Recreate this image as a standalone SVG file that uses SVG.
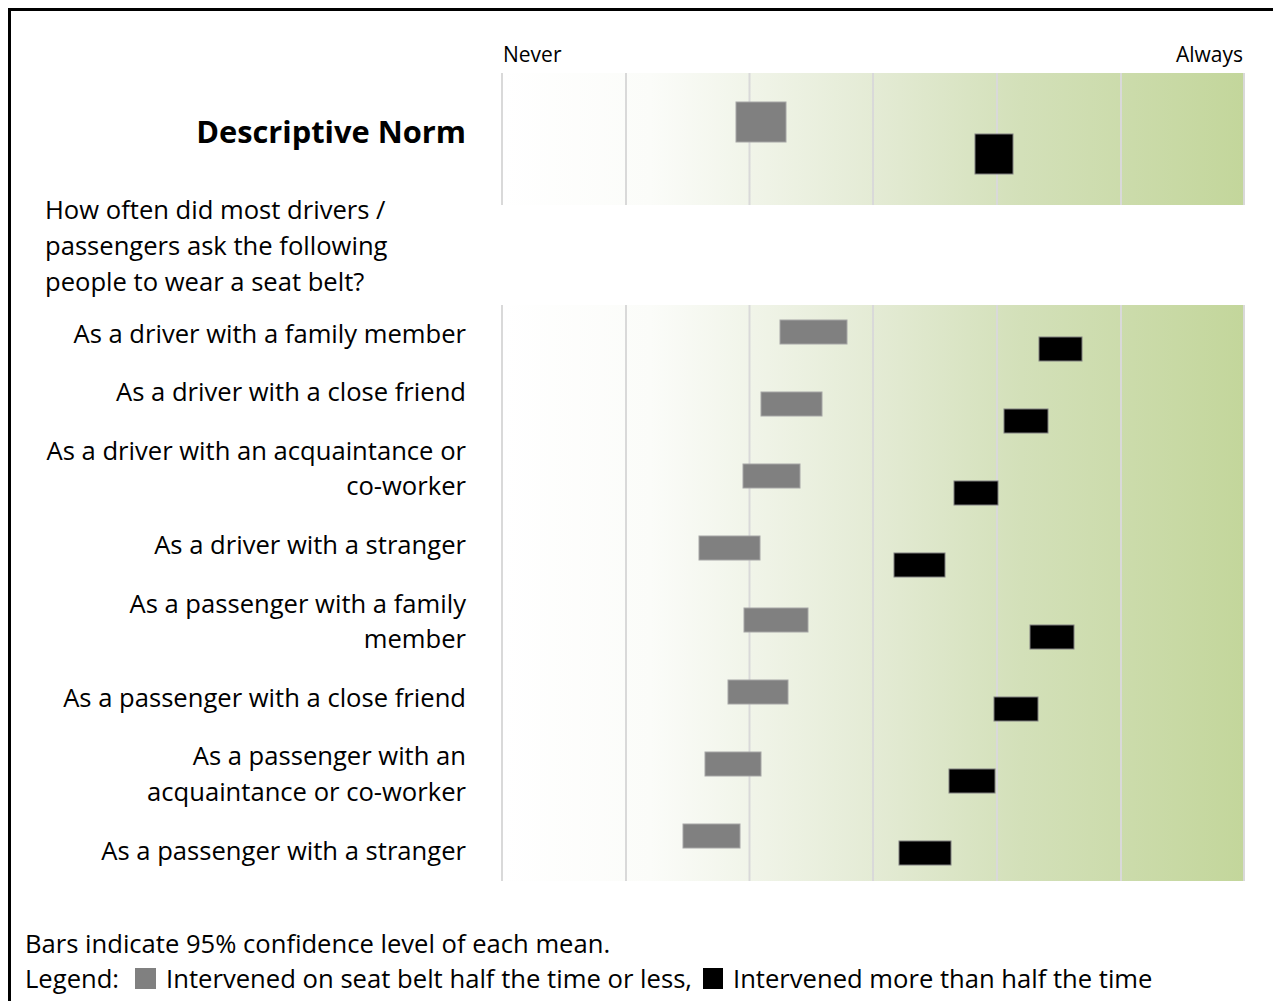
<svg xmlns="http://www.w3.org/2000/svg" width="1273" height="1001" viewBox="0 0 1273 1001">
<style>
text{font-family:"Open Sans","Liberation Sans",sans-serif;fill:#000}
.lbl{font-size:25.6px;text-anchor:end}
.ax{font-size:21px}
.t{font-size:25.6px}
.g{fill:#808080;stroke:#a6a6a6;stroke-width:1}
.b{fill:#000;stroke:#7f7f7f;stroke-width:1}
.grid{stroke:#d9d9d9;stroke-width:2}
</style>
<defs>
<linearGradient id="bg" x1="502" y1="0" x2="1244" y2="0" gradientUnits="userSpaceOnUse">
<stop offset="0" stop-color="#ffffff"/>
<stop offset="0.2" stop-color="#fbfcf9"/>
<stop offset="0.5" stop-color="#e4ebd5"/>
<stop offset="0.7" stop-color="#d3e0b9"/>
<stop offset="1" stop-color="#c3d69b"/>
</linearGradient>
</defs>
<rect x="0" y="0" width="1273" height="1001" fill="#fff"/>
<rect x="9.5" y="9.5" width="1275" height="1000" fill="none" stroke="#000" stroke-width="3"/>
<g id="panels">
<rect x="502" y="73" width="742" height="132" fill="url(#bg)"/>
<rect x="502" y="305" width="742" height="576" fill="url(#bg)"/>
<g class="grid">
<line x1="502" y1="73" x2="502" y2="205"/><line x1="626" y1="73" x2="626" y2="205"/><line x1="749.5" y1="73" x2="749.5" y2="205"/><line x1="873" y1="73" x2="873" y2="205"/><line x1="997" y1="73" x2="997" y2="205"/><line x1="1121" y1="73" x2="1121" y2="205"/><line x1="1244" y1="73" x2="1244" y2="205"/>
<line x1="502" y1="305" x2="502" y2="881"/><line x1="626" y1="305" x2="626" y2="881"/><line x1="749.5" y1="305" x2="749.5" y2="881"/><line x1="873" y1="305" x2="873" y2="881"/><line x1="997" y1="305" x2="997" y2="881"/><line x1="1121" y1="305" x2="1121" y2="881"/><line x1="1244" y1="305" x2="1244" y2="881"/>
</g>
</g>
<text class="ax" x="503" y="62">Never</text>
<text class="ax" x="1243" y="62" text-anchor="end">Always</text>
<g id="title">
<text x="466" y="143" font-size="30.8" font-weight="bold" text-anchor="end">Descriptive Norm</text>
<text class="t" x="45" y="219">How often did most drivers /</text>
<text class="t" x="45" y="255">passengers ask the following</text>
<text class="t" x="45" y="291">people to wear a seat belt?</text>
</g>
<g id="bars-top">
<rect class="g" x="736" y="102" width="50" height="40"/>
<rect class="b" x="975" y="134" width="38" height="40"/>
</g>
<g id="row1"><text class="lbl" x="466" y="343">As a driver with a family member</text>
<rect class="g" x="780" y="320" width="67" height="24"/><rect class="b" x="1039" y="337" width="43" height="24"/></g>
<g id="row2"><text class="lbl" x="466" y="401">As a driver with a close friend</text>
<rect class="g" x="761" y="392" width="61" height="24"/><rect class="b" x="1004" y="409" width="44" height="24"/></g>
<g id="row3"><text class="lbl" x="466" y="460">As a driver with an acquaintance or</text><text class="lbl" x="466" y="495">co-worker</text>
<rect class="g" x="743" y="464" width="57" height="24"/><rect class="b" x="954" y="481" width="44" height="24"/></g>
<g id="row4"><text class="lbl" x="466" y="554">As a driver with a stranger</text>
<rect class="g" x="699" y="536" width="61" height="24"/><rect class="b" x="894" y="553" width="51" height="24"/></g>
<g id="row5"><text class="lbl" x="466" y="613">As a passenger with a family</text><text class="lbl" x="466" y="648">member</text>
<rect class="g" x="744" y="608" width="64" height="24"/><rect class="b" x="1030" y="625" width="44" height="24"/></g>
<g id="row6"><text class="lbl" x="466" y="707">As a passenger with a close friend</text>
<rect class="g" x="728" y="680" width="60" height="24"/><rect class="b" x="994" y="697" width="44" height="24"/></g>
<g id="row7"><text class="lbl" x="466" y="765">As a passenger with an</text><text class="lbl" x="466" y="801">acquaintance or co-worker</text>
<rect class="g" x="705" y="752" width="56" height="24"/><rect class="b" x="949" y="769" width="46" height="24"/></g>
<g id="row8"><text class="lbl" x="466" y="860">As a passenger with a stranger</text>
<rect class="g" x="683" y="824" width="57" height="24"/><rect class="b" x="899" y="841" width="52" height="24"/></g>
<g id="footer">
<text class="t" x="25" y="953">Bars indicate 95% confidence level of each mean.</text>
<text class="t" x="25" y="988">Legend:</text>
<rect x="135" y="968" width="21" height="21" fill="#808080"/>
<text class="t" x="166" y="988" textLength="526" lengthAdjust="spacingAndGlyphs">Intervened on seat belt half the time or less,</text>
<rect x="703" y="968" width="20" height="21" fill="#000"/>
<text class="t" x="733" y="988">Intervened more than half the time</text>
</g>
</svg>
